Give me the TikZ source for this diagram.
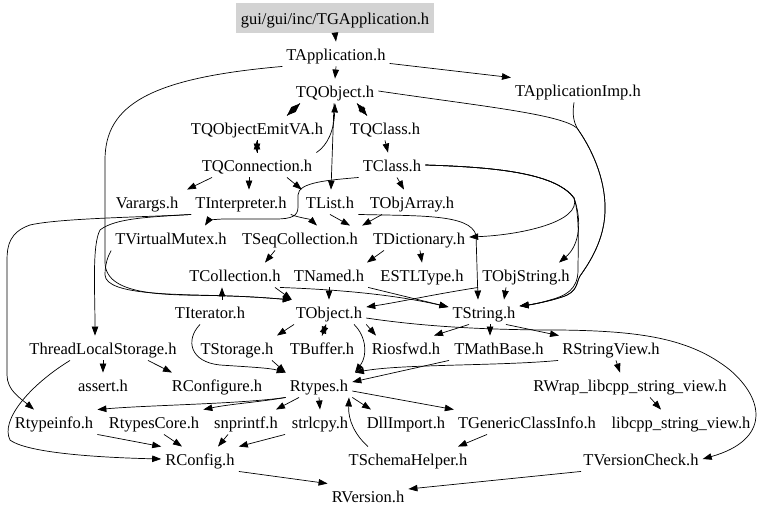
\documentclass[tikz,border=0pt]{standalone}
\usepackage{fontspec}
\setmainfont{Liberation Serif}
\usetikzlibrary{arrows.meta}
\definecolor{hdrgray}{HTML}{D3D3D3}
\begin{document}
\begin{tikzpicture}[x=1pt,y=-1pt,
  n/.style={font=\fontsize{16.5}{19}\selectfont, inner xsep=4pt, inner ysep=5pt, text height=14pt, text depth=0.5pt},
  hdrbox/.style={n, fill=hdrgray, minimum width=198pt, minimum height=30pt, inner sep=0pt},
  e/.style={-{Triangle[length=9pt,width=6.5pt]}, line width=0.7pt},
]
\useasboundingbox (0,0) rectangle (768,515);
% nodes
\node[hdrbox] (hdr) at (335,18) {gui/gui/inc/TGApplication.h};
\node[n] (tapp) at (336,54) {TApplication.h};
\node[n] (timp) at (578,90) {TApplicationImp.h};
\node[n] (tqobj) at (335,91) {TQObject.h};
\node[n] (emit) at (257,128) {TQObjectEmitVA.h};
\node[n] (tqclass) at (385,128) {TQClass.h};
\node[n] (tqconn) at (257,165) {TQConnection.h};
\node[n] (tclass) at (392,165) {TClass.h};
\node[n] (varargs) at (147,202) {Varargs.h};
\node[n] (tinterp) at (241,202) {TInterpreter.h};
\node[n] (tlist) at (330,202) {TList.h};
\node[n] (tobjarr) at (412,202) {TObjArray.h};
\node[n] (tvmutex) at (171,238) {TVirtualMutex.h};
\node[n] (tseq) at (300,238) {TSeqCollection.h};
\node[n] (tdict) at (419,238) {TDictionary.h};
\node[n] (tcoll) at (235,275) {TCollection.h};
\node[n] (tnamed) at (329,275) {TNamed.h};
\node[n] (estl) at (422,275) {ESTLType.h};
\node[n] (tobjstr) at (526,275) {TObjString.h};
\node[n] (titer) at (210,312) {TIterator.h};
\node[n] (tobject) at (329,312) {TObject.h};
\node[n] (tstring) at (484,312) {TString.h};
\node[n] (tls) at (103,348) {ThreadLocalStorage.h};
\node[n] (tstorage) at (237,348) {TStorage.h};
\node[n] (tbuffer) at (322,348) {TBuffer.h};
\node[n] (riosfwd) at (406,348) {Riosfwd.h};
\node[n] (tmath) at (499,348) {TMathBase.h};
\node[n] (rsv) at (611,348) {RStringView.h};
\node[n] (assert) at (103,385) {assert.h};
\node[n] (rconfigure) at (217,385) {RConfigure.h};
\node[n] (rtypes) at (319,385) {Rtypes.h};
\node[n] (rwrap) at (630,385) {RWrap\_libcpp\_string\_view.h};
\node[n] (rtypeinfo) at (54,422) {Rtypeinfo.h};
\node[n] (rtcore) at (154,422) {RtypesCore.h};
\node[n] (snprintf) at (246,422) {snprintf.h};
\node[n] (strlcpy) at (320,422) {strlcpy.h};
\node[n] (dll) at (406,422) {DllImport.h};
\node[n] (tgci) at (527,422) {TGenericClassInfo.h};
\node[n] (libcpp) at (681,422) {libcpp\_string\_view.h};
\node[n] (rconfig) at (200,459) {RConfig.h};
\node[n] (tschema) at (408,459) {TSchemaHelper.h};
\node[n] (tvcheck) at (641,459) {TVersionCheck.h};
\node[n] (rversion) at (368,496) {RVersion.h};
% top edges
\draw[e] (hdr.south) -- (tapp.north);
\draw[e] (tapp.south) -- (tqobj.north);
\draw[e] ([yshift=3pt]tapp.south east) -- (timp.north west);
\draw[e] (tapp.south west) .. controls (150,78) and (105,105) .. (105,160) -- (105,262) .. controls (105,300) and (180,294) .. (230,296) .. controls (260,297) and (280,299) .. (tobject.north west);
\draw[e] (tvmutex.south west) .. controls (108,256) and (105,264) .. (105,275) .. controls (106,296) and (180,294) .. (230,296) .. controls (260,297) and (280,299) .. (tobject.north west);
\draw[e] ([xshift=-35pt]tqobj.south) -- ([xshift=30pt]emit.north);
\draw[e] ([xshift=30pt]emit.north) -- ([xshift=-35pt]tqobj.south);
\draw[e] ([xshift=22pt]tqobj.south) -- ([xshift=-18pt]tqclass.north);
\draw[e] ([xshift=-18pt]tqclass.north) -- ([xshift=22pt]tqobj.south);
\draw[e] (emit.south) -- (tqconn.north);
\draw[e] (tqconn.north) -- (emit.south);
\draw[e] (tqclass.south) -- ([xshift=-4pt]tclass.north);
\draw[e] ([xshift=-1pt]tqobj.south) -- ([xshift=1pt]tlist.north);
\draw[e] (tqconn.north east) .. controls (328,145) and (334,130) .. (tqobj.south);
% right side long curves
\draw[e] (tqobj.east) .. controls (480,106) and (560,114) .. (577,128) .. controls (596,155) and (606,185) .. (605,212) .. controls (604,240) and (590,262) .. (580,276) .. controls (576,283) and (578,292) .. (562,297) .. controls (550,301) and (535,304) .. ([yshift=6pt]tstring.east);
\draw[e] ([xshift=-4pt]timp.south) .. controls (572,115) and (574,122) .. (577,128) .. controls (596,155) and (606,185) .. (605,212) .. controls (604,240) and (590,262) .. (580,276) .. controls (576,283) and (578,292) .. (562,297) .. controls (550,301) and (535,304) .. ([yshift=6pt]tstring.east);
\draw[e] (tclass.east) .. controls (490,167) and (555,172) .. (574,198) .. controls (580,215) and (578,250) .. (578,270) .. controls (578,290) and (565,296) .. (550,300) .. controls (540,303) and (530,305) .. ([yshift=6pt]tstring.east);
\draw[e] (tclass.east) .. controls (490,167) and (555,172) .. (574,198) .. controls (582,222) and (520,235) .. ([yshift=1pt]tdict.east);
\draw[e] (tclass.east) .. controls (490,167) and (555,172) .. (574,198) .. controls (582,220) and (580,245) .. ([xshift=33pt]tobjstr.north);
% second rank
\draw[e] ([xshift=5pt]tclass.south) -- ([xshift=-8pt]tobjarr.north);
\draw[e] ([xshift=-45pt]tqconn.south) -- ([xshift=40pt]varargs.north);
\draw[e] ([xshift=-8pt]tqconn.south) -- ([xshift=8pt]tinterp.north);
\draw[e] ([xshift=30pt]tqconn.south) -- (tlist.north west);
\draw[e] (tclass.south west) .. controls (330,180) and (298,182) .. (298,195) -- (298,207) .. controls (298,216) and (292,219) .. (275,219) -- (225,219) .. controls (215,219) and (208,221) .. ([xshift=34pt]tvmutex.north);
\draw[e] (tinterp.south west) .. controls (150,217) and (115,218) .. (100,230) .. controls (92,245) and (95,290) .. ([xshift=-8pt]tls.north);
\draw[e] (tinterp.south west) .. controls (150,217) and (60,218) .. (30,225) .. controls (10,232) and (7,245) .. (7,260) -- (7,375) .. controls (7,390) and (20,398) .. ([xshift=-20pt]rtypeinfo.north);
\draw[e] (tinterp.south east) .. controls (300,218) and (310,219) .. ([xshift=17pt]tseq.north);
\draw[e] (tlist.south) -- ([xshift=50pt]tseq.north);
\draw[e] ([xshift=-30pt]tobjarr.south) -- (tseq.north east);
\draw[e] (tlist.south east) .. controls (420,216) and (470,214) .. (476,235) -- ([xshift=-6pt]tstring.north);
% middle
\draw[e] ([xshift=-35pt]tdict.south) -- ([xshift=38pt]tnamed.north);
\draw[e] ([xshift=1pt]tdict.south) -- (estl.north);
\draw[e] ([xshift=-25pt]tseq.south) -- ([xshift=30pt]tcoll.north);
\draw[e] ([xshift=12pt]titer.north) -- ([xshift=-13pt]tcoll.south);
\draw[e] ([xshift=40pt]tcoll.south) -- (tobject.north west);
\draw[e] ([xshift=45pt]tcoll.south) .. controls (350,290) and (400,296) .. ([yshift=5pt]tstring.west);
\draw[e] (tnamed.south) -- (tobject.north);
\draw[e] (tnamed.south east) -- ([yshift=5pt]tstring.west);
\draw[e] (tobjstr.south west) .. controls (430,295) and (400,302) .. ([yshift=5pt]tobject.east);
\draw[e] ([xshift=-20pt]tobjstr.south) -- ([xshift=20pt]tstring.north);
% TObject outgoing
\draw[e] ([xshift=-35pt]tobject.south) -- ([xshift=40pt]tstorage.north);
\draw[e] ([xshift=-3pt]tobject.south) -- (tbuffer.north);
\draw[e] (tbuffer.north) -- ([xshift=-3pt]tobject.south);
\draw[e] ([xshift=25pt]tobject.south) .. controls (366,336) and (368,355) .. ([xshift=36pt]rtypes.north);
\draw[e] (tobject.south east) -- ([xshift=-30pt]riosfwd.north);
\draw[e] ([yshift=-6pt]tobject.east) .. controls (420,326) and (480,330) .. (560,330) .. controls (640,331) and (690,338) .. (730,370) .. controls (765,400) and (770,440) .. (tvcheck.east);
% TString outgoing
\draw[e] ([xshift=-15pt]tstring.south) -- ([xshift=28pt]riosfwd.north);
\draw[e] ([xshift=6pt]tstring.south) -- ([xshift=-9pt]tmath.north);
\draw[e] ([xshift=22pt]tstring.south) -- ([xshift=-52pt]rsv.north);
\draw[e] ([xshift=5pt]rsv.south) -- ([xshift=-10pt]rwrap.north);
\draw[e] ([xshift=20pt]rwrap.south) -- ([xshift=-20pt]libcpp.north);
\draw[e] (rsv.south west) .. controls (500,366) and (400,364) .. ([xshift=36pt]rtypes.north);
\draw[e] ([xshift=-50pt]tmath.south) -- ([yshift=3pt]rtypes.east);
% into Rtypes from left
\draw[e] ([xshift=-10pt]titer.south) .. controls (185,340) and (190,362) .. (220,365) .. controls (250,367) and (270,368) .. (rtypes.north west);
\draw[e] ([xshift=35pt]tstorage.south) -- (rtypes.north west);
% ThreadLocalStorage
\draw[e] (tls.south) -- (assert.north);
\draw[e] ([xshift=45pt]tls.south) -- ([xshift=-45pt]rconfigure.north);
\draw[e] ([xshift=-33pt]tls.south) .. controls (30,385) and (0,420) .. (10,440) .. controls (30,455) and (120,458) .. (rconfig.west);
% Rtypes outgoing
\draw[e] (rtypes.south west) .. controls (240,404) and (150,405) .. (rtypeinfo.north east);
\draw[e] (rtypes.south west) .. controls (260,402) and (230,404) .. (rtcore.north east);
\draw[e] ([xshift=-20pt]rtypes.south) -- ([xshift=30pt]snprintf.north);
\draw[e] (rtypes.south) -- (strlcpy.north);
\draw[e] (rtypes.south east) -- ([xshift=-35pt]dll.north);
\draw[e] ([yshift=-6pt]rtypes.east) -- (tgci.north west);
\draw[e] ([xshift=-40pt]tschema.north) .. controls (355,435) and (348,420) .. ([xshift=30pt]rtypes.south);
\draw[e] ([xshift=-40pt]tgci.south) -- ([xshift=50pt]tschema.north);
% into RConfig / RVersion
\draw[e] (rtypeinfo.south east) -- (rconfig.north west);
\draw[e] ([xshift=10pt]rtcore.south) -- ([xshift=-18pt]rconfig.north);
\draw[e] ([xshift=-18pt]snprintf.south) -- ([xshift=18pt]rconfig.north);
\draw[e] ([xshift=-35pt]strlcpy.south) -- (rconfig.north east);
\draw[e] (rconfig.south east) -- (rversion.north west);
\draw[e] ([xshift=-60pt]tvcheck.south) -- ([yshift=7pt]rversion.east);
\end{tikzpicture}
\end{document}
